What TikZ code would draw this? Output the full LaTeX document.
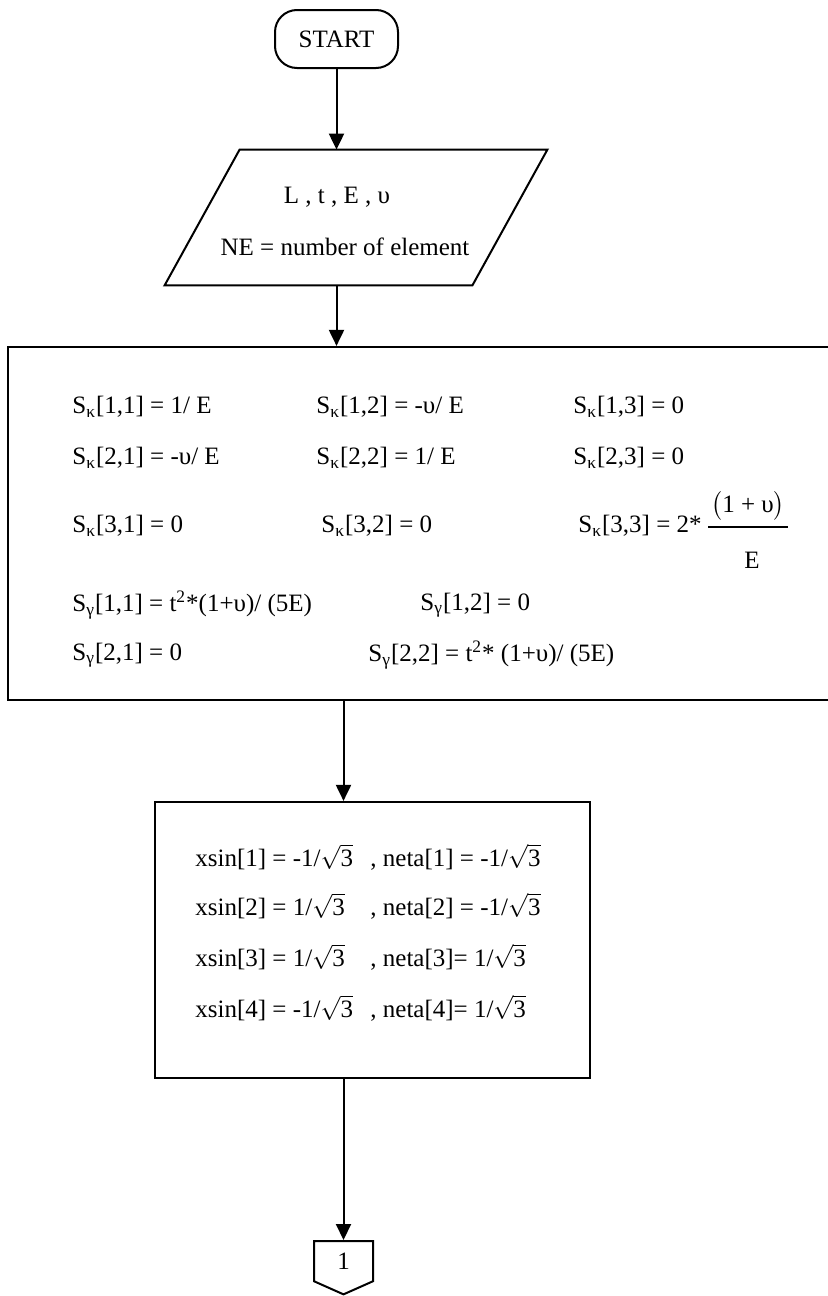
\documentclass[tikz,border=0pt]{standalone}
\usepackage{amsmath}
\usepackage{fontspec}
\setmainfont{Liberation Serif}
\usetikzlibrary{arrows.meta,positioning,shapes.symbols,calc}

\begin{document}
\begin{tikzpicture}[
    x=0.5pt, y=-0.5pt,
    every node/.style={font=\fontsize{12.5}{15}\selectfont},
    term/.style={draw, line width=1pt, rounded corners=11pt, minimum width=61.5pt, minimum height=29pt},
    iobody/.style={minimum width=153.5pt, minimum height=67.5pt, inner sep=0pt},
    io/.style={line width=1pt},
    proc/.style={draw, line width=1.1pt},
    conn/.style={draw, line width=1pt, signal, signal to=south, signal pointer angle=132,
        minimum width=29.5pt, minimum height=21.5pt, inner sep=0pt},
    txt/.style={anchor=west, inner sep=0pt},
    arr/.style={-{Triangle[length=8pt,width=7.5pt]}, line width=1pt}
]
\useasboundingbox (0,0) rectangle (827,1296);

% start and input
\node[term] (start) at (336.5,39) {START};
\node[iobody] (input) at (356,217.5) {};
\draw[io] ($(input.south west)+(-37.5,0)$) -- ($(input.north west)+(37.5,0)$)
    -- ($(input.north east)+(37.5,0)$) -- ($(input.south east)+(-37.5,0)$) -- cycle;
\node (params) at (337,197) {L , t , E , υ};
\node (nelem) at (345,247) {NE = number of element};

% compliance matrices
\node[proc, minimum width=421pt, minimum height=176.5pt] (stiff) at (429,523.5) {};
\node[txt] (k11) at (72,407) {S\textsubscript{κ}[1,1] = 1/ E};
\node[txt] (k12) at (316,407) {S\textsubscript{κ}[1,2] = -υ/ E};
\node[txt] (k13) at (573,407) {S\textsubscript{κ}[1,3] = 0};
\node[txt] (k21) at (72,458) {S\textsubscript{κ}[2,1] = -υ/ E};
\node[txt] (k22) at (316,458) {S\textsubscript{κ}[2,2] = 1/ E};
\node[txt] (k23) at (573,458) {S\textsubscript{κ}[2,3] = 0};
\node[txt] (k31) at (72,526) {S\textsubscript{κ}[3,1] = 0};
\node[txt] (k32) at (321,526) {S\textsubscript{κ}[3,2] = 0};
\node[txt] (k33) at (578,526) {S\textsubscript{κ}[3,3] = 2*};
\node (knum) at (748,506) {$\bigl(\mbox{1 + υ}\bigr)$};
\draw[line width=0.7pt] (708,527) -- (788,527);
\node (kden) at (752,560) {E};
\node[txt] (g11) at (72,605) {S\textsubscript{γ}[1,1] = t\textsuperscript{2}*(1+υ)/ (5E)};
\node[txt] (g12) at (420,605) {S\textsubscript{γ}[1,2] = 0};
\node[txt] (g21) at (72,655) {S\textsubscript{γ}[2,1] = 0};
\node[txt] (g22) at (368,655) {S\textsubscript{γ}[2,2] = t\textsuperscript{2}* (1+υ)/ (5E)};

% gauss points
\node[proc, minimum width=217.5pt, minimum height=138pt] (gauss) at (372.5,940) {};
\node[txt] (xs1) at (195,857) {xsin[1] = -1/$\sqrt{\mbox{3}}$};
\node[txt] (ne1) at (370,857) {, neta[1] = -1/$\sqrt{\mbox{3}}$};
\node[txt] (xs2) at (195,906) {xsin[2] = 1/$\sqrt{\mbox{3}}$};
\node[txt] (ne2) at (370,906) {, neta[2] = -1/$\sqrt{\mbox{3}}$};
\node[txt] (xs3) at (195,957) {xsin[3] = 1/$\sqrt{\mbox{3}}$};
\node[txt] (ne3) at (370,957) {, neta[3]= 1/$\sqrt{\mbox{3}}$};
\node[txt] (xs4) at (195,1008) {xsin[4] = -1/$\sqrt{\mbox{3}}$};
\node[txt] (ne4) at (370,1008) {, neta[4]= 1/$\sqrt{\mbox{3}}$};

% off-page connector
\node[conn, anchor=north] (link) at (343.5,1240) {1};

\draw[arr] (start) -- (start |- input.north);
\draw[arr] (input.south -| start) -- (start |- stiff.north);
\draw[arr] (link.north |- stiff.south) -- (link.north |- gauss.north);
\draw[arr] (gauss.south -| link.north) -- (link.north);
\end{tikzpicture}
\end{document}
